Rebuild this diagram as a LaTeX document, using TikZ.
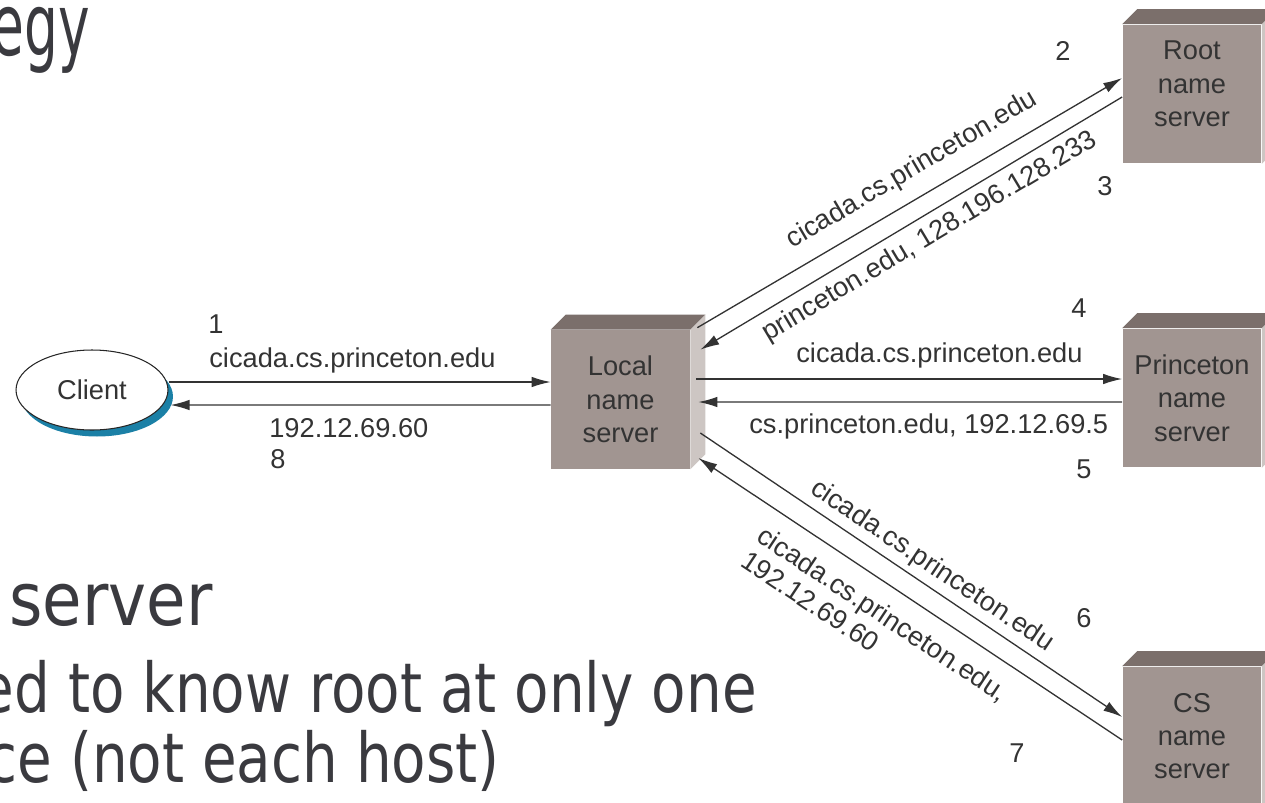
\documentclass[tikz,border=0pt]{standalone}
\usepackage{fontspec}
\setmainfont{Liberation Sans}
\newfontfamily\titlefont[FakeStretch=0.62]{DejaVu Sans}
\newfontfamily\bodyfont[FakeStretch=0.82]{DejaVu Sans}
\newfontfamily\bodyfontw[FakeStretch=0.87]{DejaVu Sans}
\usetikzlibrary{arrows.meta,calc,shapes.geometric,shadows}
\definecolor{topf}{HTML}{7B6F6B}
\definecolor{frontf}{HTML}{A19591}
\definecolor{sidef}{HTML}{CDC6C3}
\definecolor{ink}{HTML}{333333}
\definecolor{slidecol}{HTML}{3A3A3F}
\definecolor{shadowblue}{HTML}{1B80A6}
\newcommand\lbl{\fontsize{15.5pt}{19pt}\selectfont}
\newcommand\lbltight{\fontsize{15.5pt}{17pt}\selectfont}
\newcommand\boxfaces[1]{%
  \fill[topf] (#1.north west) -- ++(15,-15) -- ($(#1.north east)+(15,-15)$) -- (#1.north east) -- cycle;
  \fill[sidef] (#1.north east) -- ++(15,-15) -- ($(#1.south east)+(15,-15)$) -- (#1.south east) -- cycle;}
\begin{document}
\begin{tikzpicture}[x=0.02cm,y=-0.02cm,
  srvbox/.style={rectangle, fill=frontf, minimum width=2.78cm, minimum height=2.78cm, inner sep=0pt, align=center, font=\lbl, text=ink},
  boxtext/.style={align=center, font=\lbl, text=ink, inner sep=0pt},
  lab/.style={font=\lbl, text=ink, inner sep=0pt},
  arr/.style={draw=ink, line width=0.75pt, -{Latex[length=0.38cm,width=0.21cm]}},
  slidetxt/.style={text=slidecol, inner sep=0pt}]
\useasboundingbox (0,0) rectangle (1265,802);

% slide text
\node[slidetxt, font=\titlefont\fontsize{49pt}{50pt}\selectfont, anchor=base east] (title) at (90,55) {egy};
\node[slidetxt, font=\bodyfontw\fontsize{42pt}{44pt}\selectfont, anchor=base west] (bullet1) at (9,625) {server};
\node[slidetxt, font=\bodyfont\fontsize{39.1pt}{40pt}\selectfont, anchor=base east] (bullet2) at (757,712) {ed to know root at only one};
\node[slidetxt, font=\bodyfont\fontsize{39.1pt}{40pt}\selectfont, anchor=base east] (bullet3) at (500,782) {ce (not each host)};

% client
\node[ellipse, minimum width=3.04cm, minimum height=1.6cm, draw=black!85, line width=0.6pt, fill=white,
  copy shadow={shadow xshift=0.1cm, shadow yshift=-0.13cm, fill=shadowblue, draw=none},
  font=\lbl, text=ink] (client) at (92,390) {Client};

% servers
\node[srvbox] (local) at (620.5,399.5) {Local\\name\\server};
\node[srvbox] (root) at (1192,94) {};
\node[boxtext] (roottext) at (1192,84) {Root\\name\\server};
\node[srvbox] (princeton) at (1192,398) {Princeton\\name\\server};
\node[srvbox] (cs) at (1192,736) {CS\\name\\server};
\boxfaces{local}
\boxfaces{root}
\boxfaces{princeton}
\boxfaces{cs}

% arrows client <-> local
\draw[arr] ($(client.east)+(0,-8)$) -- ($(local.west)+(0,-17.5)$);
\draw[arr] ($(local.west)+(0,5.5)$) -- ($(client.east)+(2,15)$);
% local <-> root
\draw[arr] ($(local.north east)+(7,-2)$) -- ($(root.west)+(0,-16)$);
\draw[arr] ($(root.west)+(0,3)$) -- ($(local.north east)+(10,20)$);
% local <-> princeton
\draw[arr] ($(local.east)+(6,-20.5)$) -- ($(princeton.west)+(0,-19)$);
\draw[arr] ($(princeton.west)+(0,4)$) -- ($(local.east)+(8,2.5)$);
% local <-> cs
\draw[arr] ($(local.east)+(10,33.5)$) -- ($(cs.west)+(0,-19)$);
\draw[arr] ($(cs.west)+(0,4)$) -- ($(local.east)+(8,58.5)$);

% labels
\node[lab, anchor=base west] (n1) at (208,333) {1};
\node[lab, anchor=base west] (q1) at (209,367) {cicada.cs.princeton.edu};
\node[lab, anchor=base west] (r8) at (269,437) {192.12.69.60};
\node[lab, anchor=base west] (n8) at (270,468) {8};

\node[lab, anchor=base west] (n2) at (1055,60) {2};
\node[lab, rotate=30.5] (q2) at (912,170) {cicada.cs.princeton.edu};
\node[lab, rotate=30.9] (r3) at (930,237) {princeton.edu, 128.196.128.233};
\node[lab, anchor=base west] (n3) at (1097,195) {3};

\node[lab, anchor=base west] (n4) at (1071,317) {4};
\node[lab, anchor=base west] (q4) at (796,362) {cicada.cs.princeton.edu};
\node[lab, anchor=base west] (r5) at (749,433) {cs.princeton.edu, 192.12.69.5};
\node[lab, anchor=base west] (n5) at (1076,478) {5};

\node[lab, rotate=-33.9] (q6) at (932,566) {cicada.cs.princeton.edu};
\node[lab, anchor=base west] (n6) at (1076,627) {6};
\node[lab, font=\lbltight, align=left, rotate=-33.6] (r7) at (875,626) {cicada.cs.princeton.edu,\\192.12.69.60};
\node[lab, anchor=base west] (n7) at (1009,762) {7};
\end{tikzpicture}
\end{document}
